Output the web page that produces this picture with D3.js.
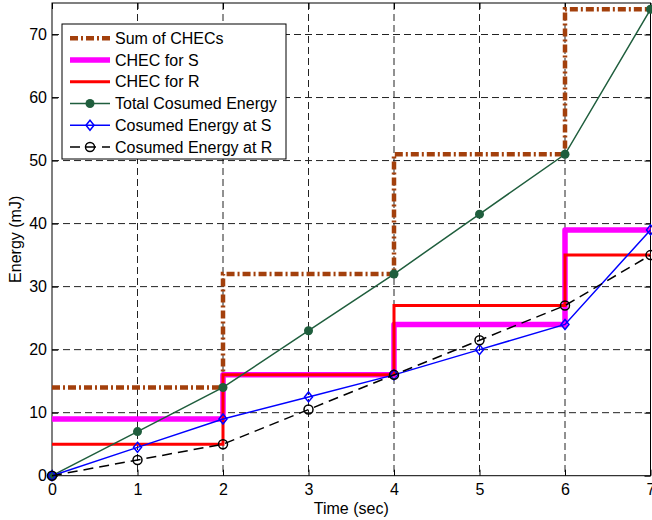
<!DOCTYPE html>
<html>
<head>
<meta charset="utf-8">
<script src="https://cdn.jsdelivr.net/npm/d3@7"></script>
<style>
  html, body { margin: 0; padding: 0; background: #fff; }
  text { font-family: "Liberation Sans", Arial, Helvetica, sans-serif; }
</style>
</head>
<body>
<svg id="chart" width="652" height="520"></svg>
<script>
// ---- data ----
const timeX = [0, 1, 2, 3, 4, 5, 6, 7];
const totalEnergy = [0, 7, 14, 23, 32, 41.5, 51, 74];
const energyS = [0, 4.5, 9, 12.5, 16, 20, 24, 39];
const energyR = [0, 2.5, 5, 10.5, 16, 21.5, 27, 35];
const checX = [0, 2, 4, 6, 7];
const sumChec = [14, 32, 51, 74, 74];
const checS = [9, 16, 24, 39, 39];
const checR = [5, 16, 27, 35, 35];
const xTicks = [0, 1, 2, 3, 4, 5, 6, 7];
const yTicks = [0, 10, 20, 30, 40, 50, 60, 70];
const legendLabels = ["Sum of CHECs", "CHEC for S", "CHEC for R", "Total Cosumed Energy", "Cosumed Energy at S", "Cosumed Energy at R"];

const FS = 16;
const svg = d3.select("#chart");
const L = 52, R = 650.5, T = 3, B = 475.7;
const x = d3.scaleLinear().domain([0, 7]).range([L, R]);
const y = d3.scaleLinear().domain([0, 75]).range([B, T]);

// grid
const grid = svg.append("g");
grid.selectAll("line.gx").data(xTicks.slice(1, -1)).enter().append("line")
  .attr("x1", d => x(d)).attr("x2", d => x(d)).attr("y1", T).attr("y2", B)
  .attr("stroke", "#222").attr("stroke-width", 1).attr("stroke-dasharray", "7,4");
grid.selectAll("line.gy").data(yTicks.slice(1)).enter().append("line")
  .attr("y1", d => y(d)).attr("y2", d => y(d)).attr("x1", L).attr("x2", R)
  .attr("stroke", "#222").attr("stroke-width", 1).attr("stroke-dasharray", "7,4");

// axes
const fmt = d3.format("d");
const xAxis = d3.axisBottom(x).tickValues(xTicks).tickFormat(fmt).tickSize(-6).tickPadding(8);
const yAxis = d3.axisLeft(y).tickValues(yTicks).tickFormat(fmt).tickSize(-6).tickPadding(5);
const gx = svg.append("g").attr("transform", `translate(0,${B})`).call(xAxis);
const gy = svg.append("g").attr("transform", `translate(${L},0)`).call(yAxis);
[gx, gy].forEach(g => {
  g.select(".domain").remove();
  g.selectAll("line").attr("stroke", "#000");
  g.selectAll("text").attr("font-size", FS).attr("fill", "#000")
    .style("font-family", "'Liberation Sans', Arial, sans-serif");
});
// top and right ticks
svg.append("g").attr("transform", `translate(0,${T})`).call(d3.axisTop(x).tickValues(xTicks).tickSize(-6).tickFormat(""))
  .call(g => { g.select(".domain").remove(); g.selectAll("line").attr("stroke", "#000"); });
svg.append("g").attr("transform", `translate(${R},0)`).call(d3.axisRight(y).tickValues(yTicks).tickSize(-6).tickFormat(""))
  .call(g => { g.select(".domain").remove(); g.selectAll("line").attr("stroke", "#000"); });

// frame
svg.append("rect").attr("x", L).attr("y", T).attr("width", R - L).attr("height", B - T)
  .attr("fill", "none").attr("stroke", "#000").attr("stroke-width", 1);

// labels
svg.append("text").attr("x", (L + R) / 2).attr("y", 514).attr("text-anchor", "middle")
  .attr("font-size", FS).text("Time (sec)");
svg.append("text").attr("transform", `translate(21,${(T + B) / 2}) rotate(-90)`)
  .attr("text-anchor", "middle").attr("font-size", FS).text("Energy (mJ)");

// series
const brown = "#a3400c", green = "#1f5e3d";
const stair = d3.line().x(d => x(d[0])).y(d => y(d[1])).curve(d3.curveStepAfter);
const poly = d3.line().x(d => x(d[0])).y(d => y(d[1]));
const zip = (xs, ys) => xs.map((v, i) => [v, ys[i]]);

svg.append("path").attr("d", stair(zip(checX, sumChec))).attr("fill", "none")
  .attr("stroke", brown).attr("stroke-width", 4.5).attr("stroke-dasharray", "8,3,2,3");
svg.append("path").attr("d", stair(zip(checX, checS))).attr("fill", "none")
  .attr("stroke", "#ff00ff").attr("stroke-width", 5.5).attr("stroke-linejoin", "round");
svg.append("path").attr("d", stair(zip(checX, checR))).attr("fill", "none")
  .attr("stroke", "#ff0000").attr("stroke-width", 3);

// total
svg.append("path").attr("d", poly(zip(timeX, totalEnergy))).attr("fill", "none")
  .attr("stroke", green).attr("stroke-width", 1.5);
svg.selectAll("circle.tot").data(zip(timeX, totalEnergy)).enter().append("circle")
  .attr("cx", d => x(d[0])).attr("cy", d => y(d[1])).attr("r", 4.5).attr("fill", green);

// S
svg.append("path").attr("d", poly(zip(timeX, energyS))).attr("fill", "none")
  .attr("stroke", "#0000ff").attr("stroke-width", 1.5);
const diamond = (cx, cy) => `M${cx},${cy - 5}L${cx + 4},${cy}L${cx},${cy + 5}L${cx - 4},${cy}Z`;
svg.selectAll("path.ds").data(zip(timeX, energyS)).enter().append("path")
  .attr("d", d => diamond(x(d[0]), y(d[1]))).attr("fill", "none")
  .attr("stroke", "#0000ff").attr("stroke-width", 1.5);

// R
svg.append("path").attr("d", poly(zip(timeX, energyR))).attr("fill", "none")
  .attr("stroke", "#000").attr("stroke-width", 1.5).attr("stroke-dasharray", "10,6");
svg.selectAll("circle.er").data(zip(timeX, energyR)).enter().append("circle")
  .attr("cx", d => x(d[0])).attr("cy", d => y(d[1])).attr("r", 4.5).attr("fill", "none")
  .attr("stroke", "#000").attr("stroke-width", 1.5);

// legend
const lg = svg.append("g");
lg.append("rect").attr("x", 62).attr("y", 24).attr("width", 224).attr("height", 135)
  .attr("fill", "#fff").attr("stroke", "#000").attr("stroke-width", 1);
const rowY = i => 38.3 + i * 21.75;
const lx1 = 70, lx2 = 110, lxm = 90;
lg.append("line").attr("x1", lx1).attr("x2", lx2).attr("y1", rowY(0)).attr("y2", rowY(0))
  .attr("stroke", brown).attr("stroke-width", 4.5).attr("stroke-dasharray", "8,3,2,3");
lg.append("line").attr("x1", lx1).attr("x2", lx2).attr("y1", rowY(1)).attr("y2", rowY(1))
  .attr("stroke", "#ff00ff").attr("stroke-width", 5.5);
lg.append("line").attr("x1", lx1).attr("x2", lx2).attr("y1", rowY(2)).attr("y2", rowY(2))
  .attr("stroke", "#ff0000").attr("stroke-width", 3);
lg.append("line").attr("x1", lx1).attr("x2", lx2).attr("y1", rowY(3)).attr("y2", rowY(3))
  .attr("stroke", green).attr("stroke-width", 1.5);
lg.append("circle").attr("cx", lxm).attr("cy", rowY(3)).attr("r", 4.5).attr("fill", green);
lg.append("line").attr("x1", lx1).attr("x2", lx2).attr("y1", rowY(4)).attr("y2", rowY(4))
  .attr("stroke", "#0000ff").attr("stroke-width", 1.5);
lg.append("path").attr("d", diamond(lxm, rowY(4))).attr("fill", "none")
  .attr("stroke", "#0000ff").attr("stroke-width", 1.5);
lg.append("line").attr("x1", lx1).attr("x2", lx2).attr("y1", rowY(5)).attr("y2", rowY(5))
  .attr("stroke", "#000").attr("stroke-width", 1.5).attr("stroke-dasharray", "10,6");
lg.append("circle").attr("cx", lxm).attr("cy", rowY(5)).attr("r", 4.5).attr("fill", "none")
  .attr("stroke", "#000").attr("stroke-width", 1.5);
lg.selectAll("text").data(legendLabels).enter().append("text")
  .attr("x", 115).attr("y", (d, i) => rowY(i) + 5.5).attr("font-size", FS).text(d => d);
</script>
</body>
</html>
